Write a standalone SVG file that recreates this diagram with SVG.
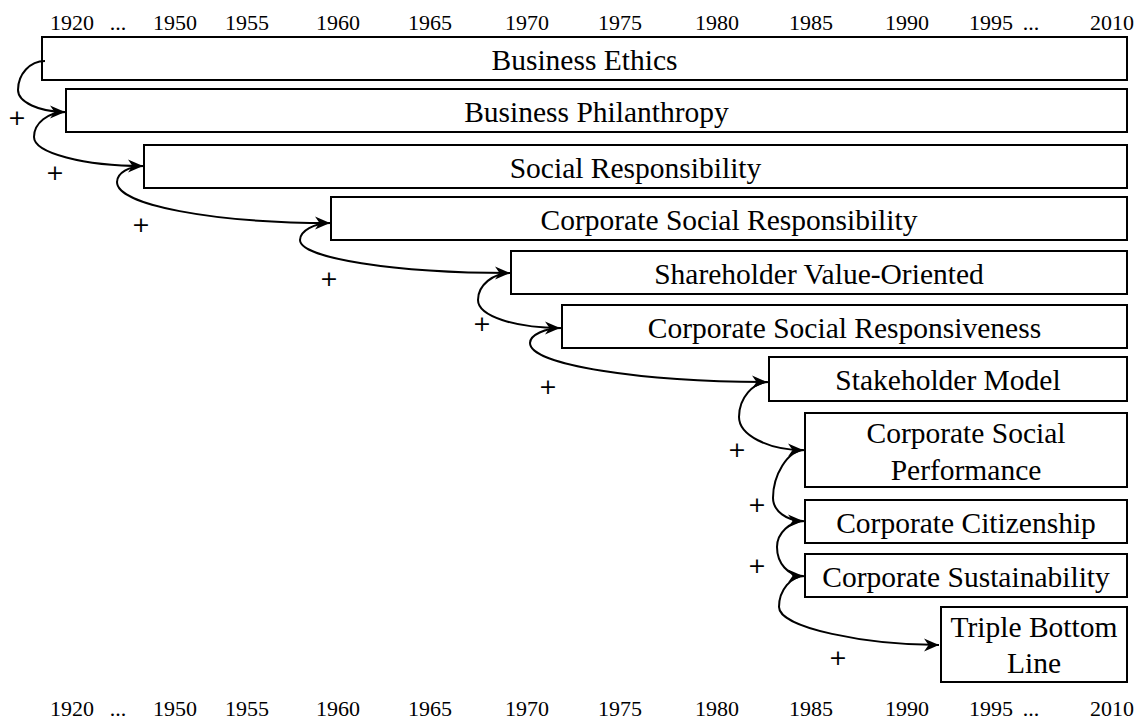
<svg xmlns="http://www.w3.org/2000/svg" width="1145" height="720" viewBox="0 0 1145 720">
<style>
.box{fill:#fff;stroke:#000;stroke-width:2}
.lbl{font-family:"Liberation Serif","Times New Roman",serif;font-size:29.5px;fill:#000;text-anchor:middle}
.ax{font-family:"Liberation Serif","Times New Roman",serif;font-size:22px;fill:#000;text-anchor:middle}
.pl{font-family:"DejaVu Sans",sans-serif;font-size:22px;fill:#000;text-anchor:middle}
.con{fill:none;stroke:#000;stroke-width:2;marker-end:url(#arr)}
</style>
<defs>
<marker id="arr" markerUnits="userSpaceOnUse" markerWidth="20" markerHeight="16" viewBox="-17 -8 20 16" refX="0" refY="0" orient="auto">
<path d="M0,0 L-15,-6.5 L-10.5,0 L-15,6.5 Z" fill="#000"/>
</marker>
</defs>
<g id="axis-top">
<text class="ax" x="72" y="30">1920</text>
<text class="ax" x="118" y="30">...</text>
<text class="ax" x="175" y="30">1950</text>
<text class="ax" x="247" y="30">1955</text>
<text class="ax" x="338" y="30">1960</text>
<text class="ax" x="430" y="30">1965</text>
<text class="ax" x="527" y="30">1970</text>
<text class="ax" x="620" y="30">1975</text>
<text class="ax" x="717" y="30">1980</text>
<text class="ax" x="811" y="30">1985</text>
<text class="ax" x="907" y="30">1990</text>
<text class="ax" x="991" y="30">1995</text>
<text class="ax" x="1031" y="30">...</text>
<text class="ax" x="1112" y="30">2010</text>
</g>
<g id="axis-bottom">
<text class="ax" x="72" y="716">1920</text>
<text class="ax" x="118" y="716">...</text>
<text class="ax" x="175" y="716">1950</text>
<text class="ax" x="247" y="716">1955</text>
<text class="ax" x="338" y="716">1960</text>
<text class="ax" x="430" y="716">1965</text>
<text class="ax" x="527" y="716">1970</text>
<text class="ax" x="620" y="716">1975</text>
<text class="ax" x="717" y="716">1980</text>
<text class="ax" x="811" y="716">1985</text>
<text class="ax" x="907" y="716">1990</text>
<text class="ax" x="991" y="716">1995</text>
<text class="ax" x="1031" y="716">...</text>
<text class="ax" x="1112" y="716">2010</text>
</g>
<g id="n1"><rect class="box" x="42" y="37" width="1085" height="43"/><text class="lbl" x="584.5" y="70">Business Ethics</text></g>
<g id="n2"><rect class="box" x="66" y="89" width="1061" height="43"/><text class="lbl" x="596.5" y="122">Business Philanthropy</text></g>
<g id="n3"><rect class="box" x="144" y="145" width="983" height="43"/><text class="lbl" x="635.5" y="177.5">Social Responsibility</text></g>
<g id="n4"><rect class="box" x="331" y="197" width="796" height="43"/><text class="lbl" x="729" y="229.5">Corporate Social Responsibility</text></g>
<g id="n5"><rect class="box" x="511" y="251" width="616" height="43"/><text class="lbl" x="819" y="283.5">Shareholder Value-Oriented</text></g>
<g id="n6"><rect class="box" x="562" y="305" width="565" height="43"/><text class="lbl" x="844.5" y="337.5">Corporate Social Responsiveness</text></g>
<g id="n7"><rect class="box" x="769" y="357" width="358" height="44"/><text class="lbl" x="948" y="390">Stakeholder Model</text></g>
<g id="n8"><rect class="box" x="805" y="413" width="322" height="74"/><text class="lbl" x="966" y="443">Corporate Social</text><text class="lbl" x="966" y="480">Performance</text></g>
<g id="n9"><rect class="box" x="805" y="500" width="322" height="43"/><text class="lbl" x="966" y="532.5">Corporate Citizenship</text></g>
<g id="n10"><rect class="box" x="805" y="554" width="322" height="43"/><text class="lbl" x="966" y="586.5">Corporate Sustainability</text></g>
<g id="n11"><rect class="box" x="941" y="607" width="186" height="75"/><text class="lbl" x="1034" y="637">Triple Bottom</text><text class="lbl" x="1034" y="673">Line</text></g>
<g id="connectors">
<path class="con" d="M45,61 C30,61 18,74 18,90 C18,102 39,112 65,112"/>
<path class="con" d="M66,112 C48,112 34,123 34,137 C34,153 84,166 143,166"/>
<path class="con" d="M144,166 C129,166 117,173 117,182 C117,205 213,223 330,223"/>
<path class="con" d="M331,223 C314,223 300,231 300,240 C300,258 394,273 510,273"/>
<path class="con" d="M511,273 C493,273 478,285 478,300 C478,316 515,328 560,328"/>
<path class="con" d="M562,328 C545,328 530,335 530,343 C530,365 643,382 767,382"/>
<path class="con" d="M769,382 C753,382 739,398 739,417 C739,435 768,450 803,450"/>
<path class="con" d="M805,450 C787,450 773,476 773,498 C773,511 787,521 803,521"/>
<path class="con" d="M805,521 C790,521 777,533 777,547 C777,563 788,576 803,576"/>
<path class="con" d="M805,576 C791,576 779,590 779,607 C779,628 867,645 939,645"/>
</g>
<g id="plus-labels">
<text class="pl" x="17" y="125">+</text>
<text class="pl" x="55" y="180">+</text>
<text class="pl" x="141" y="232">+</text>
<text class="pl" x="329" y="286">+</text>
<text class="pl" x="482" y="331">+</text>
<text class="pl" x="548" y="394">+</text>
<text class="pl" x="737" y="457">+</text>
<text class="pl" x="757" y="512">+</text>
<text class="pl" x="757" y="573">+</text>
<text class="pl" x="838" y="665">+</text>
</g>
</svg>
